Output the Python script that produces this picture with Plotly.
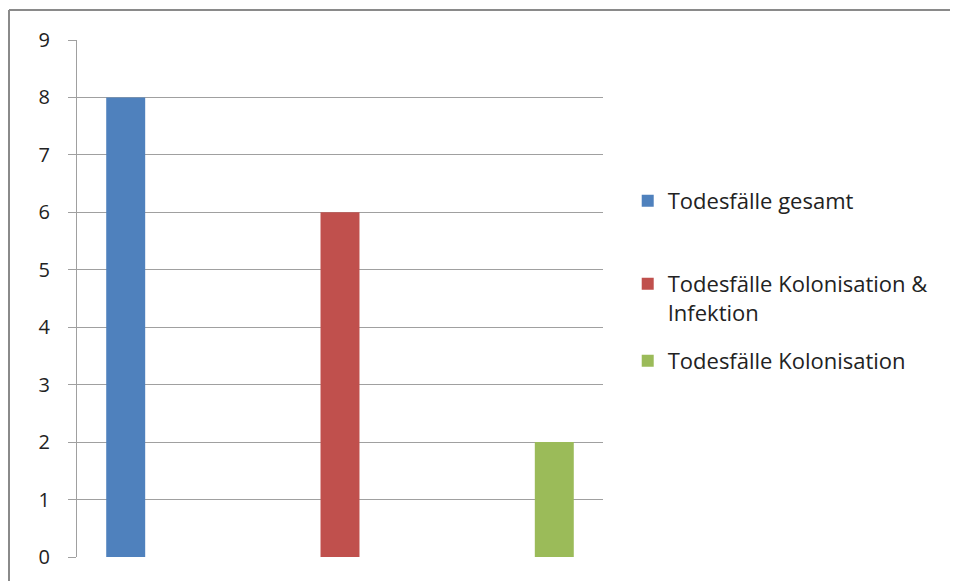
import plotly.graph_objects as go

# data
categories = ["A", "B", "C"]
series_names = [
    "Todesfälle gesamt",
    "Todesfälle Kolonisation &<br>Infektion",
    "Todesfälle Kolonisation",
]
series_values = [
    [8, None, None],
    [None, 6, None],
    [None, None, 2],
]
colors = ["#4f81bd", "#c0504d", "#9bbb59"]
y_ticks = [0, 1, 2, 3, 4, 5, 6, 7, 8, 9]

grid_col = "#a0a0a0"
font_fam = "'Open Sans', sans-serif"
legend_keys = ["legend", "legend2", "legend3"]
legend_y = [0.6886, 0.5, 0.379]

fig = go.Figure()
for name, vals, col, lk in zip(series_names, series_values, colors, legend_keys):
    fig.add_trace(go.Bar(x=categories, y=vals, name=name, marker_color=col,
                         marker_line_width=0, legend=lk))

legend_opts = {}
for lk, ly in zip(legend_keys, legend_y):
    legend_opts[lk] = dict(x=1.047, y=ly, xanchor="left", yanchor="middle",
                           font=dict(size=22, color="#222222"),
                           valign="top", itemwidth=30, bgcolor="rgba(0,0,0,0)")

# chart frame: only the left and top edges are visible in the picture
bx = (9 - 77) / 526
by = 1 + 30 / 517
frame = dict(color="#8a8a8a", width=2)

# page body has an 8px margin, so the figure is offset by 8px
fig.update_layout(
    width=958, height=581,
    margin=dict(l=69, r=363, t=32, b=32),
    paper_bgcolor="white", plot_bgcolor="white",
    barmode="group", bargap=1.5 / 4.5, bargroupgap=0,
    font=dict(family=font_fam, size=20, color="#222222"),
    showlegend=True,
    shapes=[
        dict(type="line", xref="paper", yref="paper", x0=bx, x1=bx,
             y0=-0.2, y1=by, line=frame, layer="below"),
        dict(type="line", xref="paper", yref="paper", x0=bx, x1=1.8,
             y0=by, y1=by, line=frame, layer="below"),
    ],
    **legend_opts,
)
fig.update_xaxes(showticklabels=False, showgrid=False, showline=False,
                 zeroline=False, ticks="")
fig.update_yaxes(range=[0, 9], tickvals=y_ticks, showgrid=True,
                 gridcolor=grid_col, gridwidth=1, zeroline=False,
                 showline=True, linecolor=grid_col, linewidth=1,
                 ticks="outside", ticklen=8, tickcolor=grid_col,
                 ticklabelstandoff=14, tickfont=dict(size=20))

fig.write_html("out.html")
